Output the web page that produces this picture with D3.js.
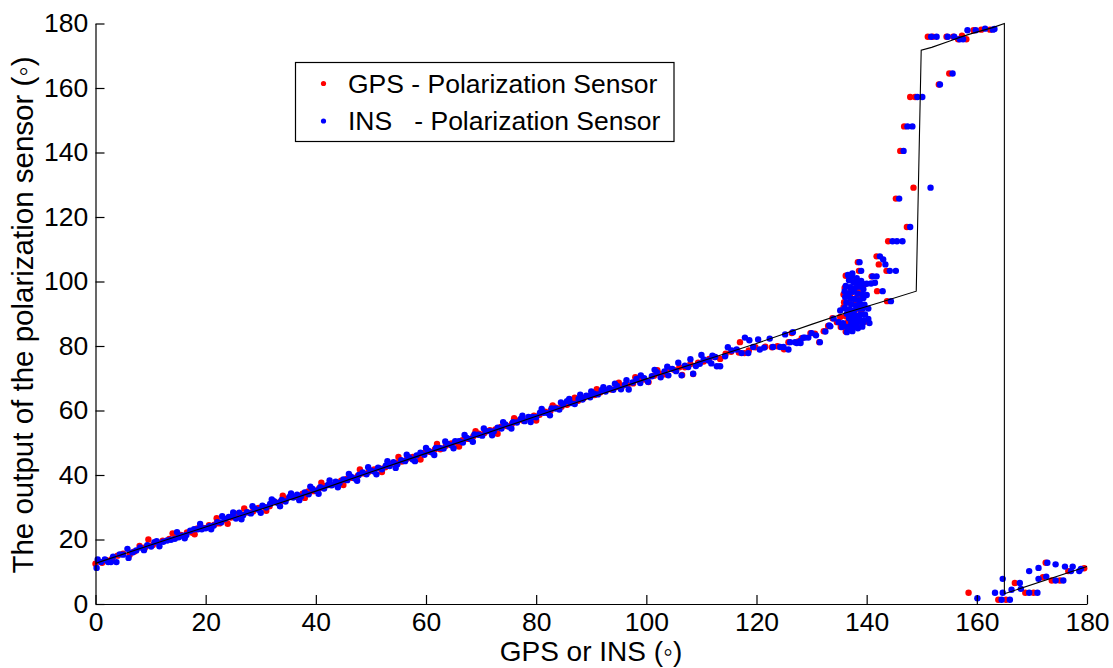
<!DOCTYPE html>
<html><head><meta charset="utf-8">
<script src="https://cdn.jsdelivr.net/npm/d3@7"></script>
<style>
html,body{margin:0;padding:0;background:#fff;}
svg{display:block;}
text{font-family:"Liberation Sans",Arial,sans-serif;fill:#000;}
</style></head>
<body>
<svg id="chart" width="1113" height="668"></svg>
<script>
// ---- data ----
const xTicks = [0,20,40,60,80,100,120,140,160,180];
const yTicks = [0,20,40,60,80,100,120,140,160,180];
const xTitle = "GPS or INS (\u25E6)";
const yTitle = "The output of the polarization sensor (\u25E6)";
const seriesNames = ["GPS - Polarization Sensor", "INS   - Polarization Sensor"];
const seriesColors = ["#ff0000", "#0000ff"];

// reference (model) line
const lineX = [0,10,20,30,40,50,60,70,80,90,100,110,120,130,136.4,142.4,149.0,149.9,151.8,155.1,156.9,158.7,163.0,165.0,165.0,180];
const lineY = [12.6,18.3,23.9,29.4,35.0,40.9,46.7,52.4,58.2,64.0,69.8,75.3,80.8,86.7,90.4,93.5,97.0,171.7,172.6,174.6,175.7,176.7,178.8,180.0,3.2,11.6];

// GPS - Polarization sensor points [x, y]
const gpsPoints = [
[0.0,12.5],[1.2,12.8],[2.0,13.6],[3.0,14.0],[4.0,15.0],[5.0,15.6],[6.2,15.3],[7.0,16.2],[8.0,18.0],[9.0,17.5],
[9.6,20.0],[10.4,18.3],[11.3,19.0],[12.2,19.6],[13.4,20.2],[14.5,20.6],[15.5,21.4],[16.6,22.2],[17.6,22.1],[18.5,23.4],
[19.5,23.6],[20.6,24.4],[21.6,24.6],[22.5,25.0],[23.6,26.0],[24.6,26.8],[25.6,27.9],[26.6,27.7],[27.6,28.4],[28.6,28.7],
[29.6,29.8],[30.6,30.1],[31.6,30.3],[32.6,31.6],[33.6,31.7],[34.6,32.6],[35.6,33.4],[36.6,33.2],[37.6,34.2],[38.6,34.9],
[39.6,35.0],[40.6,35.8],[41.6,36.5],[42.6,36.9],[43.6,37.3],[44.6,38.2],[45.6,38.8],[46.6,39.1],[47.6,39.7],[48.6,40.5],
[49.6,41.0],[50.6,41.7],[51.6,42.0],[52.6,42.4],[53.6,43.4],[54.6,43.7],[55.6,44.2],[56.6,45.1],[57.6,45.6],[58.6,46.0],
[59.6,46.8],[60.6,47.2],[61.6,47.9],[62.6,48.0],[63.6,49.1],[64.6,49.8],[65.6,50.0],[66.6,50.8],[67.6,51.2],[68.6,52.0],
[69.6,52.8],[70.6,53.0],[71.6,53.9],[72.6,54.1],[73.6,54.9],[74.6,55.2],[75.6,55.9],[76.6,56.8],[77.6,56.9],[78.6,57.6],
[79.6,58.4],[80.6,58.7],[81.6,59.6],[82.6,59.9],[83.6,60.9],[84.6,61.2],[85.6,61.8],[86.6,62.6],[87.6,63.0],[88.6,63.8],
[89.6,64.5],[90.6,64.8],[91.6,65.6],[92.6,66.4],[93.6,66.5],[94.6,67.3],[95.6,67.5],[96.6,67.9],[97.6,68.4],[98.6,69.4],
[99.6,69.6],[100.4,68.8],[101.4,70.8],[102.4,71.4],[103.4,71.2],[104.0,73.0],[105.0,72.6],[106.0,73.4],[107.0,73.4],[108.0,74.4],
[109.4,74.8],[110.4,75.2],[111.4,76.0],[112.4,76.6],[113.4,76.0],[114.4,77.6],[115.4,78.2],[117.0,81.2],[116.8,78.0],[117.8,77.8],
[118.6,78.6],[119.8,79.6],[121.6,79.8],[122.8,79.6],[123.8,79.9],[125.0,79.0],[125.8,81.2],[126.4,84.0],[127.6,81.4],[128.2,82.4],
[129.8,84.0],[130.6,83.8],[131.4,81.2],[132.2,84.6],[133.0,86.2],[133.8,88.6],[134.6,87.4],[135.3,85.9],[136.2,84.5],
[14.0,21.9],[18.0,21.6],[22.0,26.6],[24.0,24.9],[27.0,29.6],[31.0,28.9],[34.0,33.6],[38.0,32.9],[41.0,37.6],[45.0,36.9],
[48.0,41.7],[52.0,40.9],[55.0,45.6],[59.0,44.8],[62.0,49.6],[66.0,48.8],[69.0,53.6],[73.0,52.8],[76.0,57.6],[80.0,56.9],
[83.0,61.6],[87.0,64.0],[91.0,66.6],[95.0,68.6],[98.0,70.3],[102.0,72.5],[106.5,71.0],[108.5,71.3],
[136.2,101.8],[137.0,100.6],[138.0,99.6],[139.5,99.0],[136.0,98.0],[137.2,97.4],[138.4,97.0],[135.8,96.0],[137.0,95.6],[138.2,95.0],
[139.2,95.4],[135.9,93.6],[136.9,93.4],[138.0,93.8],[135.8,92.0],[136.7,91.2],[137.8,90.8],[139.0,91.0],[136.2,89.2],[137.3,88.8],
[138.5,89.0],[136.6,87.4],[137.9,87.8],[139.8,87.6],[137.0,85.2],[138.3,86.0],[135.2,89.0],
[137.0,101.6],[138.4,106.0],[138.6,103.3],[140.9,101.6],[141.8,107.8],[142.2,105.3],[141.9,97.0],[143.6,103.3],[143.7,93.9],[143.9,112.5],
[145.3,125.7],[146.1,140.5],[146.8,148.1],[147.3,116.9],[147.9,157.2],[148.8,157.2],[148.5,129.1],[153.1,161.1],[155.0,164.5],
[151.1,175.9],[152.0,175.9],[154.5,175.9],[155.7,175.9],[156.6,175.1],[157.3,176.2],[158.1,175.1],[159.4,177.9],[160.8,178.1],[162.4,178.1],
[158.5,3.5],[163.9,1.3],[165.3,1.3],[166.9,6.5],[168.8,3.5],[170.3,3.5],[172.0,8.3],[172.5,12.8],[173.6,7.3],[175.1,7.3],
[176.6,10.2],[179.5,11.1]
];

// INS - Polarization sensor points [x, y]
const insPoints = [
[0.2,11.2],[0.4,13.8],[1.0,13.0],[1.7,13.8],[2.3,13.0],[2.8,13.0],[3.2,14.7],[3.8,13.0],[4.4,15.4],[5.0,15.3],
[5.8,17.1],[6.0,14.3],[6.7,16.0],[7.4,16.6],[8.1,17.5],[8.8,16.7],[9.4,18.2],[10.1,17.8],[10.7,19.2],[11.1,19.5],
[11.6,17.9],[12.3,19.3],[13.0,19.7],[13.7,19.9],[14.4,20.2],[15.1,20.7],[15.8,21.2],[16.5,21.4],[17.2,22.7],[17.9,23.2],
[18.6,23.2],[19.3,23.2],[20.0,23.5],[20.7,24.1],[21.4,24.3],[22.1,25.4],[22.8,25.3],[23.5,26.4],[24.2,27.0],[24.9,27.3],
[25.5,26.5],[26.1,28.3],[26.8,27.5],[27.5,28.5],[28.2,28.1],[28.9,29.6],[29.6,29.2],[30.3,30.5],[31.0,29.9],[31.7,31.0],
[32.4,31.9],[33.1,31.3],[33.8,32.3],[34.5,31.8],[35.2,33.2],[35.9,33.0],[36.6,33.9],[37.3,33.3],[38.0,34.6],[38.7,34.0],
[39.4,35.7],[40.1,35.1],[40.8,36.2],[41.5,35.8],[42.2,36.9],[42.9,36.8],[43.6,37.9],[44.3,37.5],[45.0,38.6],[45.7,38.4],
[46.4,39.5],[47.1,38.9],[47.8,40.0],[48.5,40.8],[49.2,40.2],[49.9,41.4],[50.6,41.1],[51.3,42.3],[52.0,41.8],[52.7,42.9],
[53.4,42.8],[54.1,44.0],[54.8,43.3],[55.5,44.6],[56.2,44.3],[56.9,45.5],[57.6,44.8],[58.3,46.1],[59.0,46.9],[59.7,46.3],
[60.4,47.5],[61.1,47.0],[61.8,48.4],[62.5,48.4],[63.2,48.2],[63.9,49.6],[64.6,49.2],[65.3,50.5],[66.0,50.5],[66.7,50.1],
[67.4,51.5],[68.1,51.2],[68.8,52.6],[69.5,52.5],[70.2,52.2],[70.9,53.6],[71.6,53.6],[72.3,53.5],[73.0,54.7],[73.7,54.4],
[74.4,55.7],[75.1,55.0],[75.8,56.4],[76.5,56.3],[77.2,57.4],[77.9,56.7],[78.6,58.0],[79.3,58.0],[80.0,57.9],[80.7,59.3],
[81.4,59.3],[82.1,59.2],[82.8,60.6],[83.5,60.6],[84.2,60.3],[84.9,61.9],[85.6,62.9],[86.3,62.3],[87.0,62.0],[87.7,63.6],
[88.4,63.4],[89.1,64.6],[89.8,64.1],[90.5,65.2],[91.2,65.0],[91.9,66.3],[92.6,65.9],[93.3,66.9],[94.0,66.4],[94.7,67.6],
[95.4,66.6],[96.1,68.0],[96.8,66.5],[97.5,68.7],[98.2,69.8],[98.9,68.5],[99.6,70.0],[100.3,68.9],[101.0,70.6],[101.9,71.9],
[102.6,70.3],[103.3,72.1],[104.0,70.9],[104.7,72.9],[105.4,72.2],[106.4,70.9],[107.0,73.9],[107.6,73.5],[108.5,71.4],[109.0,73.8],
[109.7,74.5],[110.4,75.8],[111.3,75.5],[112.0,77.0],[112.5,76.6],[112.8,73.7],[113.4,73.7],[114.3,76.8],[115.5,78.6],[116.4,78.9],
[117.3,77.8],[117.9,82.6],[118.5,77.8],[118.7,81.8],[119.4,79.7],[120.3,82.0],[120.6,78.9],[121.4,79.5],[122.4,82.3],[123.0,79.7],
[124.3,79.7],[124.9,79.7],[125.2,83.6],[125.8,78.9],[126.1,81.2],[126.6,84.3],[127.0,81.2],[127.3,80.9],[127.9,81.5],[128.0,80.9],
[128.5,82.6],[128.8,82.6],[129.4,82.6],[130.0,84.0],[130.8,83.3],[131.5,81.2],[132.5,84.5],[133.2,86.4],[133.4,86.1],[134.0,88.5],
[134.9,87.4],[135.2,91.0],[135.5,85.9],[135.7,87.1],[136.4,85.9],[136.4,84.3],[136.9,85.9],
[14.8,22.3],[16.2,20.4],[19.0,24.8],[21.0,23.2],[23.0,27.2],[25.0,28.4],[26.5,26.3],[28.5,30.3],[30.0,28.3],[32.0,32.4],
[33.5,30.3],[35.5,34.3],[37.0,32.2],[39.0,36.4],[40.5,34.2],[42.5,38.3],[44.0,36.2],[46.0,40.3],[47.5,38.2],[49.5,42.4],
[51.0,40.2],[53.0,44.3],[54.5,42.2],[56.5,46.3],[58.0,44.3],[60.0,48.4],[61.5,46.2],[63.5,50.4],[65.0,48.3],[67.0,52.4],
[68.5,50.3],[70.5,54.4],[72.0,52.3],[74.0,56.4],[75.5,54.4],[77.5,58.4],[79.0,56.4],[81.0,60.5],[82.5,58.5],[84.5,62.5],
[86.0,63.6],[88.0,64.9],[90.0,65.9],[92.2,67.2],[94.3,68.3],[96.4,69.4],[99.0,70.9],[101.5,72.6],[103.8,73.6],[105.8,74.8],
[108.0,75.9],[110.0,77.2],[111.8,74.6],[114.8,79.6],
[136.6,102.0],[137.4,102.5],[138.2,101.0],[139.0,100.2],[136.8,100.4],[137.6,99.8],[138.4,99.4],[139.2,99.3],[140.0,99.3],[140.8,99.4],
[141.5,99.6],[136.2,98.6],[137.0,98.2],[137.8,97.9],[138.6,98.4],[139.4,97.6],[136.0,97.0],[136.8,96.4],[137.6,96.8],[138.4,96.2],
[139.2,96.0],[140.0,95.8],[136.1,95.2],[137.0,94.8],[137.8,94.6],[138.6,94.2],[139.4,94.9],[136.3,93.4],[137.2,93.0],[138.0,92.6],
[138.8,93.2],[139.6,92.8],[136.0,91.8],[136.9,91.4],[137.7,91.0],[138.5,91.6],[139.3,91.6],[140.3,91.6],[136.4,90.0],[137.3,89.6],
[138.1,89.4],[138.9,89.8],[139.7,89.8],[136.8,88.6],[137.7,88.2],[138.6,88.5],[139.5,88.0],[140.3,88.4],[137.2,87.2],[138.2,86.8],
[139.3,87.1],[140.5,87.1],[137.6,85.8],[138.4,85.5],[139.2,86.0],[137.4,84.6],[138.8,87.6],
[137.3,101.6],[138.7,106.0],[139.0,103.3],[141.1,101.6],[141.8,101.6],[142.4,107.8],[143.0,106.8],[143.4,105.3],[144.2,103.3],[145.3,103.3],
[142.9,97.0],[144.4,93.9],[144.7,112.5],[145.5,112.5],[146.5,112.5],[145.9,125.7],[146.7,140.5],[147.4,148.1],[148.3,148.1],[147.9,116.9],
[149.2,157.2],[150.1,157.2],[151.6,129.1],[153.3,161.1],[155.6,164.5],[151.7,175.9],[152.7,175.9],[154.7,175.9],[155.9,175.9],[156.9,175.1],
[157.5,175.1],[158.3,177.9],[159.8,177.9],[161.5,178.4],[162.9,178.1],[163.2,178.3],
[160.1,1.8],[163.3,3.5],[164.5,1.3],[164.7,3.5],[164.7,7.8],[166.0,1.3],[166.3,4.4],[167.8,6.5],[168.0,4.7],[169.5,3.5],
[169.5,10.2],[171.0,3.5],[171.2,7.8],[171.2,11.2],[172.6,8.5],[172.8,12.8],[174.3,7.3],[174.3,12.3],[175.7,7.3],[176.0,11.6],
[177.1,10.2],[177.4,11.6],[178.6,10.2],[178.9,10.9]
];

// ---- drawing ----
const svg = d3.select("#chart");
const x = d3.scaleLinear().domain([0,180]).range([95.5,1087]);
const y = d3.scaleLinear().domain([0,180]).range([604,23.5]);

const g = svg.append("g");

// dots
const dotR = 3.2;
g.append("g").selectAll("circle").data(gpsPoints).join("circle")
  .attr("cx", d=>x(d[0])).attr("cy", d=>y(d[1])).attr("r", dotR).attr("fill", seriesColors[0]);
g.append("g").selectAll("circle").data(insPoints).join("circle")
  .attr("cx", d=>x(d[0])).attr("cy", d=>y(d[1])).attr("r", dotR).attr("fill", seriesColors[1]);

// model line
const lineData = lineX.map((v,i)=>[v, lineY[i]]);
g.append("path").datum(lineData)
  .attr("d", d3.line().x(d=>x(d[0])).y(d=>y(d[1])))
  .attr("fill","none").attr("stroke","#000").attr("stroke-width",1.1);

// axes
const xAxis = d3.axisBottom(x).tickValues(xTicks).tickSizeInner(-9).tickSizeOuter(0).tickPadding(12).tickFormat(d3.format("d"));
const yAxis = d3.axisLeft(y).tickValues(yTicks).tickSizeInner(-9).tickSizeOuter(0).tickPadding(14).tickFormat(d3.format("d"));

const gx = svg.append("g").attr("transform", `translate(0,${y(0)})`).call(xAxis);
const gy = svg.append("g").attr("transform", `translate(${x(0)},0)`).call(yAxis);
[gx, gy].forEach(a=>{
  a.select(".domain").attr("stroke","#000").attr("stroke-width",1.2);
  a.selectAll(".tick line").attr("stroke","#000").attr("stroke-width",1.2);
  a.selectAll(".tick text").attr("font-family","Liberation Sans, Arial, sans-serif").attr("font-size",26.5).attr("fill","#000");
});
gy.selectAll(".tick text").attr("dx", "0.25em");
gx.selectAll(".tick text").attr("dy", "0.55em");

// axis titles
svg.append("text").attr("x", 591).attr("y", 661).attr("text-anchor","middle")
  .attr("font-size",28).text(xTitle);
svg.append("text").attr("transform", "translate(33,315) rotate(-90)").attr("text-anchor","middle")
  .attr("font-size",29.5).text(yTitle);

// legend
const lg = svg.append("g");
lg.append("rect").attr("x",295.5).attr("y",62.5).attr("width",378.5).attr("height",79)
  .attr("fill","#fff").attr("stroke","#000").attr("stroke-width",1.2);
seriesNames.forEach((name,i)=>{
  const cy = 83.5 + i*37.5;
  lg.append("circle").attr("cx",323.5).attr("cy",cy).attr("r",2.6).attr("fill",seriesColors[i]);
  lg.append("text").attr("x",348).attr("y",cy+9).attr("font-size",26.5)
    .style("white-space","pre").attr("xml:space","preserve").text(name);
});
</script>
</body></html>
